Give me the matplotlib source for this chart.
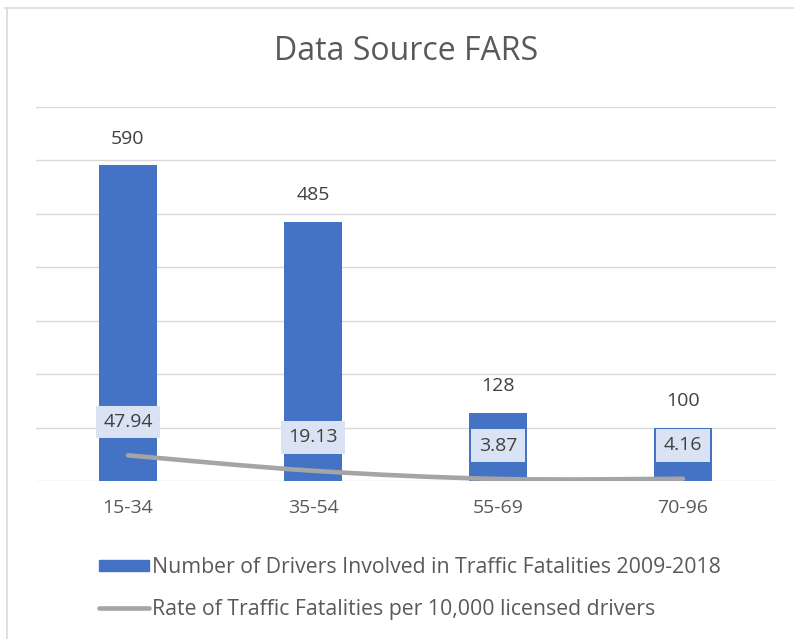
import matplotlib
matplotlib.use("Agg")
import matplotlib.pyplot as plt
from matplotlib.path import Path
from matplotlib.patches import PathPatch
from matplotlib.lines import Line2D
import numpy as np

# ----------------------------------------------------------------
# DATA
# ----------------------------------------------------------------
age_groups = ["15-34", "35-54", "55-69", "70-96"]
drivers_involved = [590, 485, 128, 100]
fatality_rate = [47.94, 19.13, 3.87, 4.16]

bar_label = "Number of Drivers Involved in Traffic Fatalities 2009-2018"
line_label = "Rate of Traffic Fatalities per 10,000 licensed drivers"
title = "Data Source FARS"

BAR_COLOR = "#4472C4"
LINE_COLOR = "#A5A5A5"
TEXT_COLOR = "#595959"
BOX_COLOR = "#DAE3F3"
GRID_COLOR = "#D9D9D9"

plt.rcParams["font.family"] = ["Open Sans", "DejaVu Sans"]

fig = plt.figure(figsize=(7.94, 6.39), dpi=100)
ax = fig.add_axes([35.5 / 794, 1 - 481 / 639, 740 / 794, 374.5 / 639])

x = np.arange(len(age_groups))
ax.bar(x, drivers_involved, width=0.315, color=BAR_COLOR, zorder=2)

# smoothed line (Catmull-Rom -> cubic bezier, like Excel's smoothed line)
pts = np.column_stack([x, fatality_rate]).astype(float)
ext = np.vstack([pts[0], pts, pts[-1]])
verts = [tuple(pts[0])]
codes = [Path.MOVETO]
for i in range(len(pts) - 1):
    p0, p1, p2, p3 = ext[i], ext[i + 1], ext[i + 2], ext[i + 3]
    c1 = p1 + (p2 - p0) / 6
    c2 = p2 - (p3 - p1) / 6
    verts += [tuple(c1), tuple(c2), tuple(p2)]
    codes += [Path.CURVE4] * 3
ax.add_patch(PathPatch(Path(verts, codes), fill=False, edgecolor=LINE_COLOR,
                       lw=3.3, capstyle="round", zorder=3))

for xi, v in zip(x, drivers_involved):
    ax.annotate(f"{v}", (xi, v), xytext=(0, 19), textcoords="offset points",
                ha="center", va="center", fontsize=14, color="#404040", zorder=5)

for xi, v in zip(x, fatality_rate):
    ax.annotate(f"{v:.2f}", (xi, v), xytext=(0, 24), textcoords="offset points",
                ha="center", va="center", fontsize=14, color="#404040", zorder=5,
                bbox=dict(boxstyle="square,pad=0.38", fc=BOX_COLOR, ec="none"))

ax.set_xlim(-0.5, 3.5)
ax.set_ylim(0, 700)
ax.set_yticks(range(0, 701, 100))
ax.yaxis.grid(True, color=GRID_COLOR, lw=1, zorder=0)
ax.set_axisbelow(True)
ax.tick_params(axis="y", length=0, labelleft=False)
ax.set_xticks(x)
ax.set_xticklabels(age_groups, fontsize=14, color=TEXT_COLOR)
ax.tick_params(axis="x", length=0, pad=13)
for s in ax.spines.values():
    s.set_visible(False)

fig.text(406 / 794, 1 - 52 / 639, title, ha="center", va="center", fontsize=23, color=TEXT_COLOR)

handles = [
    plt.Rectangle((0, 0), 1, 1, color=BAR_COLOR),
    Line2D([0], [0], color=LINE_COLOR, lw=3.3, solid_capstyle="round"),
]
fig.legend(handles, [bar_label, line_label], loc="upper left",
           bbox_to_anchor=(99 / 794, 1 - 557 / 639), frameon=False,
           fontsize=15.3, labelcolor=TEXT_COLOR, handlelength=2.35,
           handleheight=0.4, handletextpad=0.15, labelspacing=0.98,
           borderpad=0, borderaxespad=0)

# outer chart frame (only top and left edges visible in the crop)
fig.add_artist(Line2D([5 / 794, 1], [1 - 8 / 639, 1 - 8 / 639], color="#D9D9D9", lw=1.2,
                      transform=fig.transFigure))
fig.add_artist(Line2D([7 / 794, 7 / 794], [0, 1 - 8 / 639], color="#D9D9D9", lw=1.2,
                      transform=fig.transFigure))

fig.savefig("out.png", dpi=100)
